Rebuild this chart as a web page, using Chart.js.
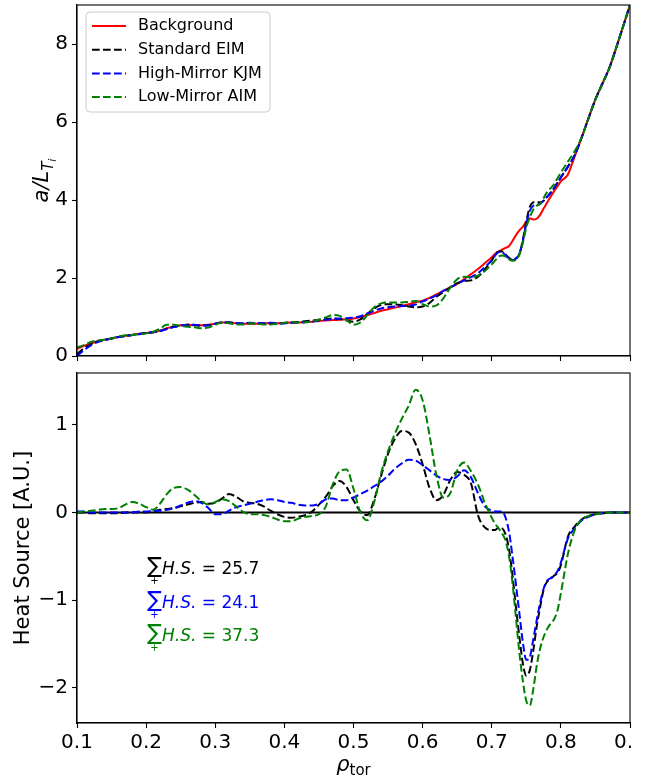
<!DOCTYPE html>
<html>
<head>
<meta charset="utf-8">
<script src="https://cdn.jsdelivr.net/npm/chart.js@4.4.0/dist/chart.umd.min.js"></script>
<style>
html, body { margin: 0; padding: 0; background: #fff; }
#top { position: absolute; left: 0; top: 0; }
#bottom { position: absolute; left: 0; top: 366px; }
</style>
</head>
<body>
<canvas id="top" width="633" height="366"></canvas>
<canvas id="bottom" width="633" height="417"></canvas>
<script>
// radial grid (rho_tor)
var rho = [0.10,0.11,0.12,0.13,0.14,0.15,0.16,0.17,0.18,0.19,
  0.20,0.21,0.22,0.23,0.24,0.25,0.26,0.27,0.28,0.29,
  0.30,0.31,0.32,0.33,0.34,0.35,0.36,0.37,0.38,0.39,
  0.40,0.41,0.42,0.43,0.44,0.45,0.46,0.47,0.48,0.49,
  0.50,0.51,0.52,0.53,0.54,0.55,0.56,0.57,0.58,0.59,
  0.60,0.61,0.62,0.63,0.64,0.65,0.66,0.67,0.68,0.69,
  0.700,0.705,0.710,0.715,0.720,0.725,0.730,0.735,0.740,0.745,
  0.750,0.755,0.760,0.765,0.770,0.775,0.780,0.785,0.790,0.795,
  0.80,0.81,0.82,0.83,0.84,0.85,0.86,0.87,0.88,0.89,0.90];

// a/L_Ti profiles
var background = [0.18,0.26,0.32,0.38,0.42,0.45,0.49,0.52,0.54,0.57,
  0.59,0.61,0.65,0.71,0.76,0.79,0.80,0.79,0.79,0.80,
  0.83,0.86,0.86,0.84,0.83,0.83,0.83,0.84,0.84,0.84,
  0.85,0.86,0.86,0.87,0.88,0.90,0.91,0.92,0.93,0.94,
  0.96,1.00,1.05,1.10,1.16,1.20,1.24,1.28,1.33,1.38,
  1.42,1.49,1.58,1.67,1.76,1.85,1.97,2.10,2.23,2.38,
  2.53,2.62,2.68,2.73,2.77,2.82,2.95,3.10,3.22,3.32,
  3.45,3.53,3.50,3.52,3.62,3.78,3.93,4.08,4.22,4.35,
  4.48,4.65,5.12,5.60,6.10,6.58,6.98,7.38,7.90,8.45,9.00];
var standardEIM = [0.05,0.20,0.30,0.37,0.41,0.45,0.49,0.51,0.54,0.56,
  0.59,0.61,0.64,0.70,0.75,0.78,0.80,0.79,0.78,0.79,
  0.83,0.86,0.86,0.84,0.83,0.84,0.84,0.83,0.82,0.83,
  0.84,0.86,0.87,0.89,0.91,0.93,0.95,0.96,0.95,0.91,
  0.88,0.94,1.08,1.22,1.31,1.33,1.32,1.30,1.27,1.25,
  1.27,1.36,1.52,1.64,1.76,1.87,1.92,1.94,2.03,2.22,
  2.45,2.60,2.68,2.68,2.60,2.52,2.47,2.50,2.62,2.98,
  3.45,3.82,3.94,3.95,3.94,3.98,4.08,4.18,4.30,4.44,
  4.58,4.85,5.15,5.60,6.10,6.58,6.98,7.38,7.90,8.45,9.00];
var highMirrorKJM = [0.00,0.15,0.27,0.36,0.41,0.45,0.49,0.51,0.54,0.56,
  0.59,0.61,0.64,0.69,0.74,0.78,0.80,0.80,0.78,0.79,
  0.83,0.86,0.86,0.84,0.84,0.85,0.84,0.84,0.85,0.84,
  0.84,0.85,0.86,0.87,0.88,0.91,0.93,0.95,0.96,0.97,
  0.98,1.02,1.09,1.16,1.22,1.25,1.27,1.28,1.29,1.32,
  1.40,1.47,1.56,1.67,1.76,1.85,1.94,2.02,2.12,2.28,
  2.45,2.58,2.66,2.66,2.58,2.50,2.46,2.50,2.62,2.95,
  3.40,3.72,3.85,3.88,3.90,3.98,4.08,4.18,4.30,4.44,
  4.58,4.85,5.15,5.60,6.10,6.58,6.98,7.38,7.90,8.45,9.00];
var lowMirrorAIM = [0.22,0.28,0.36,0.40,0.42,0.45,0.50,0.53,0.54,0.56,
  0.58,0.62,0.70,0.80,0.80,0.77,0.75,0.74,0.71,0.73,
  0.80,0.86,0.84,0.81,0.81,0.84,0.83,0.81,0.81,0.83,
  0.85,0.87,0.86,0.86,0.89,0.93,0.99,1.05,1.03,0.92,
  0.80,0.86,1.05,1.25,1.35,1.37,1.37,1.37,1.39,1.41,
  1.33,1.27,1.30,1.48,1.75,1.97,2.03,2.02,2.06,2.18,
  2.35,2.45,2.55,2.58,2.55,2.48,2.44,2.46,2.60,2.90,
  3.30,3.55,3.75,3.85,3.90,4.05,4.20,4.30,4.40,4.55,
  4.70,4.98,5.25,5.60,6.10,6.58,6.98,7.38,7.90,8.45,9.00];

// heat source profiles [A.U.]
var hsEIM = [0.00,0.00,-0.01,-0.01,-0.01,-0.01,-0.01,0.00,0.00,0.00,
  0.00,0.01,0.03,0.04,0.05,0.07,0.09,0.11,0.12,0.10,
  0.11,0.16,0.21,0.18,0.13,0.11,0.10,0.07,0.02,-0.02,
  -0.05,-0.06,-0.05,-0.03,0.01,0.09,0.18,0.30,0.36,0.29,
  0.14,0.01,-0.03,0.15,0.42,0.67,0.84,0.93,0.91,0.78,
  0.55,0.28,0.14,0.20,0.37,0.46,0.43,0.33,-0.03,-0.17,
  -0.20,-0.20,-0.17,-0.18,-0.25,-0.42,-0.72,-1.08,-1.42,-1.72,
  -1.86,-1.80,-1.58,-1.30,-1.08,-0.88,-0.79,-0.76,-0.72,-0.69,
  -0.60,-0.28,-0.16,-0.08,-0.04,-0.02,-0.01,0.00,0.00,0.00,0.00];
var hsKJM = [0.01,0.01,0.00,0.00,0.00,0.00,0.00,0.00,0.00,0.01,
  0.01,0.02,0.02,0.03,0.05,0.08,0.11,0.13,0.11,0.05,
  -0.02,-0.02,0.02,0.06,0.08,0.10,0.12,0.14,0.15,0.14,
  0.12,0.11,0.09,0.08,0.08,0.10,0.15,0.16,0.14,0.14,
  0.17,0.21,0.25,0.30,0.35,0.42,0.50,0.56,0.60,0.59,
  0.54,0.48,0.42,0.38,0.37,0.41,0.48,0.40,0.22,0.07,
  0.02,0.01,0.01,0.01,-0.06,-0.22,-0.50,-0.82,-1.15,-1.48,
  -1.68,-1.65,-1.45,-1.23,-1.03,-0.87,-0.78,-0.75,-0.72,-0.67,
  -0.57,-0.30,-0.18,-0.09,-0.05,-0.02,-0.01,0.00,0.00,0.00,0.00];
var hsAIM = [0.00,0.01,0.02,0.03,0.04,0.04,0.05,0.09,0.12,0.10,
  0.06,0.03,0.10,0.21,0.28,0.29,0.26,0.20,0.13,0.09,
  0.12,0.15,0.13,0.07,0.01,-0.02,-0.02,-0.03,-0.05,-0.08,
  -0.10,-0.10,-0.07,-0.05,-0.04,-0.02,0.07,0.32,0.47,0.49,
  0.27,0.00,-0.09,0.12,0.45,0.70,0.90,1.07,1.22,1.40,
  1.28,0.88,0.42,0.17,0.22,0.48,0.57,0.47,0.32,0.11,
  -0.06,-0.13,-0.18,-0.24,-0.32,-0.50,-0.80,-1.20,-1.60,-1.92,
  -2.15,-2.20,-2.02,-1.75,-1.55,-1.42,-1.33,-1.27,-1.22,-1.12,
  -0.92,-0.48,-0.20,-0.08,-0.04,-0.02,-0.01,0.00,0.00,0.00,0.00];
var hsSums = [25.7, 24.1, 37.3];

// ticks
var xTicks = [0.1,0.2,0.3,0.4,0.5,0.6,0.7,0.8,0.9];
var xTickLabels = ['0.1','0.2','0.3','0.4','0.5','0.6','0.7','0.8','0.9'];
var topYTicks = [0,2,4,6,8];
var topYLabels = ['0','2','4','6','8'];
var bottomYTicks = [-2,-1,0,1];
var bottomYLabels = ['\u22122','\u22121','0','1'];

Chart.defaults.font.family = "'DejaVu Sans', sans-serif";
Chart.defaults.color = '#000';
Chart.defaults.animation = false;

var DASH = [7.7, 3.3];
var FONT = "'DejaVu Sans', sans-serif";

function pts(vals) {
  return vals.map(function (v, i) { return { x: rho[i], y: v }; });
}

function line(label, vals, color, dashed, order) {
  return {
    label: label, data: pts(vals), borderColor: color, borderWidth: 2,
    borderDash: dashed ? DASH : [], pointRadius: 0, fill: false,
    cubicInterpolationMode: 'monotone', order: order
  };
}

function xAxis(showLabels) {
  return {
    type: 'linear', min: 0.1, max: 0.9,
    afterBuildTicks: function (s) { s.ticks = xTicks.map(function (v) { return { value: v }; }); },
    afterFit: function (s) { s.height = showLabels ? 60 : 10; s.paddingRight = 0; s.paddingLeft = 0; },
    grid: { drawOnChartArea: false, tickLength: 5, color: '#000', tickWidth: 1.1 },
    border: { color: '#000', width: 1.1 },
    ticks: {
      display: showLabels, autoSkip: false, maxRotation: 0, padding: 3,
      font: { size: 20 },
      callback: function (v, i) { return xTickLabels[i]; }
    }
  };
}

function yAxis(min, max, ticks, labels, title) {
  return {
    min: min, max: max,
    afterBuildTicks: function (s) { s.ticks = ticks.map(function (v) { return { value: v }; }); },
    afterFit: function (s) { s.width = 77; s.paddingTop = 0; s.paddingBottom = 0; },
    grid: { drawOnChartArea: false, tickLength: 5, color: '#000', tickWidth: 1.1 },
    border: { color: '#000', width: 1.1 },
    ticks: { padding: 4, font: { size: 20 }, callback: function (v, i) { return labels[i]; } },
    title: title
  };
}

var framePlugin = {
  id: 'frame',
  afterDraw: function (chart) {
    var ctx = chart.ctx, a = chart.chartArea;
    ctx.save();
    ctx.strokeStyle = '#000';
    ctx.lineWidth = 1.1;
    ctx.strokeRect(a.left, a.top, a.right - a.left, a.bottom - a.top);
    ctx.restore();
  }
};

var legendPlugin = {
  id: 'insideLegend',
  afterDraw: function (chart) {
    var ctx = chart.ctx, a = chart.chartArea;
    var x0 = a.left + 9, y0 = a.top + 7, w = 184, h = 100;
    ctx.save();
    ctx.beginPath();
    ctx.roundRect(x0, y0, w, h, 4);
    ctx.fillStyle = 'rgba(255,255,255,0.8)';
    ctx.fill();
    ctx.strokeStyle = '#cccccc';
    ctx.lineWidth = 1;
    ctx.stroke();
    ctx.font = '16px ' + FONT;
    ctx.textBaseline = 'middle';
    chart.data.datasets.forEach(function (ds, i) {
      var y = y0 + 14 + i * 23.7;
      ctx.beginPath();
      ctx.setLineDash(ds.borderDash);
      ctx.strokeStyle = ds.borderColor;
      ctx.lineWidth = ds.borderWidth;
      ctx.moveTo(x0 + 6, y);
      ctx.lineTo(x0 + 40, y);
      ctx.stroke();
      ctx.setLineDash([]);
      ctx.fillStyle = '#000';
      ctx.fillText(ds.label, x0 + 52, y);
    });
    ctx.restore();
  }
};

var topTitlePlugin = {
  id: 'topTitle',
  afterDraw: function (chart) {
    var ctx = chart.ctx, a = chart.chartArea;
    ctx.save();
    ctx.translate(a.left - 29, (a.top + a.bottom) / 2);
    ctx.rotate(-Math.PI / 2);
    ctx.fillStyle = '#000';
    ctx.textBaseline = 'alphabetic';
    var f1 = 'italic 21px ' + FONT, f2 = 'italic 15px ' + FONT, f3 = 'italic 11px ' + FONT;
    ctx.font = f1; var w1 = ctx.measureText('a/L').width;
    ctx.font = f2; var w2 = ctx.measureText('T').width;
    ctx.font = f3; var w3 = ctx.measureText('i').width;
    var x = -(w1 + w2 + w3) / 2;
    ctx.font = f1; ctx.fillText('a/L', x, 0); x += w1;
    ctx.font = f2; ctx.fillText('T', x, 5); x += w2;
    ctx.font = f3; ctx.fillText('i', x, 8);
    ctx.restore();
  }
};

var bottomTextPlugin = {
  id: 'bottomText',
  afterDraw: function (chart) {
    var ctx = chart.ctx, a = chart.chartArea, sx = chart.scales.x, sy = chart.scales.y;
    ctx.save();
    ctx.textBaseline = 'alphabetic';
    // x-axis title rho_tor
    var f1 = 'italic 21px ' + FONT, f2 = '15px ' + FONT;
    ctx.font = f1; var w1 = ctx.measureText('\u03c1').width;
    ctx.font = f2; var w2 = ctx.measureText('tor').width;
    var x = (a.left + a.right) / 2 - (w1 + w2) / 2;
    ctx.fillStyle = '#000';
    ctx.font = f1; ctx.fillText('\u03c1', x, 405);
    ctx.font = f2; ctx.fillText('tor', x + w1, 409);
    // sum annotations
    var yv = [-0.7, -1.085, -1.47];
    var colors = [chart.data.datasets[1].borderColor, chart.data.datasets[2].borderColor, chart.data.datasets[3].borderColor];
    hsSums.forEach(function (s, i) {
      var px = sx.getPixelForValue(0.2) + 1, py = sy.getPixelForValue(yv[i]);
      ctx.fillStyle = colors[i];
      ctx.font = '22px ' + FONT;
      var ws = ctx.measureText('\u2211').width;
      ctx.fillText('\u2211', px, py - 1);
      ctx.font = '10px ' + FONT;
      ctx.textAlign = 'center';
      ctx.fillText('+', px + ws / 2, py + 10);
      ctx.textAlign = 'left';
      var tx = px + ws;
      ctx.font = 'italic 17px ' + FONT;
      ctx.fillText('H.S.', tx, py);
      tx += ctx.measureText('H.S.').width;
      ctx.font = '17px ' + FONT;
      ctx.fillText(' = ' + s.toFixed(1), tx, py);
    });
    ctx.restore();
  }
};

new Chart(document.getElementById('top'), {
  type: 'line',
  data: {
    datasets: [
      line('Background', background, '#ff0000', false, 4),
      line('Standard EIM', standardEIM, '#000000', true, 3),
      line('High-Mirror KJM', highMirrorKJM, '#0000ff', true, 2),
      line('Low-Mirror AIM', lowMirrorAIM, '#008000', true, 1)
    ]
  },
  options: {
    responsive: false,
    layout: { padding: { top: 5, right: 3, left: 0, bottom: 0 } },
    plugins: { legend: { display: false }, tooltip: { enabled: false } },
    scales: {
      x: xAxis(false),
      y: yAxis(0, 9, topYTicks, topYLabels, { display: false })
    }
  },
  plugins: [framePlugin, legendPlugin, topTitlePlugin]
});

new Chart(document.getElementById('bottom'), {
  type: 'line',
  data: {
    datasets: [
      { label: 'zero', data: [{ x: rho[0], y: 0 }, { x: rho[rho.length - 1], y: 0 }],
        borderColor: '#000', borderWidth: 2, pointRadius: 0, order: 5 },
      line('Standard EIM', hsEIM, '#000000', true, 3),
      line('High-Mirror KJM', hsKJM, '#0000ff', true, 2),
      line('Low-Mirror AIM', hsAIM, '#008000', true, 1)
    ]
  },
  options: {
    responsive: false,
    layout: { padding: { top: 7, right: 3, left: 0, bottom: 0 } },
    plugins: { legend: { display: false }, tooltip: { enabled: false } },
    scales: {
      x: xAxis(true),
      y: yAxis(-2.4, 1.59, bottomYTicks, bottomYLabels, {
        display: true, text: 'Heat Source [A.U.]', font: { size: 21 }, padding: { top: 11, bottom: 0 }
      })
    }
  },
  plugins: [framePlugin, bottomTextPlugin]
});
</script>
</body>
</html>
